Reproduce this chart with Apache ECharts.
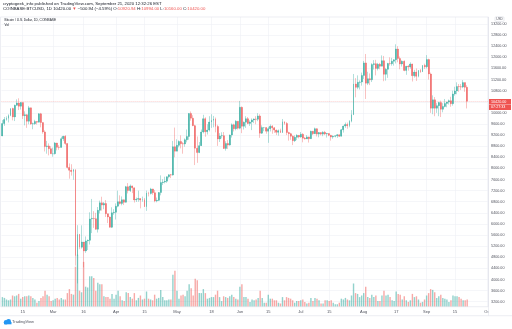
<!DOCTYPE html>
<html><head><meta charset="utf-8">
<script src="https://cdn.jsdelivr.net/npm/echarts@6/dist/echarts.min.js"></script>
<style>html,body{margin:0;padding:0;background:#fff}#c{width:512px;height:329px}</style>
</head><body><div id="c"></div>
<script>
// ---------- DATA ----------
const startYear = 2020, startMonth = 1, startDay = 5;   // 5 Feb 2020
const dayCount = 240;                                    // axis runs to 1 Oct 2020

const opens = [
 // Feb 5-29
 9170,9613,9760,9805,9905,10160,9855,10270,10355,10240,10370,9900,9935,9700,10180,9600,9610,9690,9665,9965,9650,9315,8785,8810,8710,
 // Mar
 8525,8530,8915,8760,8755,9070,9155,8900,8035,7935,7890,7950,4860,5625,5165,5350,5030,5390,5410,6180,6200,6190,5810,6490,6760,6680,6740,6370,6250,5880,6400,
 // Apr
 6420,6640,6800,6740,6870,6780,7340,7200,7370,7300,6865,6890,6915,6860,6875,6620,7115,7100,7260,7125,6830,6850,7130,7490,7510,7540,7700,7770,7760,8780,
 // May
 8620,8830,8970,8890,8880,9030,9150,9980,9810,9540,8730,8570,8820,9310,9790,9320,9380,9670,9730,9780,9510,9060,9170,9180,8720,8900,8840,9200,9570,9430,9700,
 // Jun
 9450,10200,9520,9665,9790,9620,9670,9745,9780,9770,9890,9270,9470,9470,9340,9430,9520,9460,9380,9300,9360,9290,9680,9620,9290,9250,9160,9000,9120,9190,
 // Jul
 9135,9230,9090,9060,9135,9070,9340,9250,9430,9235,9290,9235,9300,9240,9255,9190,9130,9155,9175,9210,9160,9390,9525,9580,9540,9700,9935,11040,10920,11100,11110,
 // Aug
 11350,11800,11070,11230,11190,11740,11770,11600,11750,11680,11880,11390,11570,11780,11770,11860,11910,12300,11960,11760,11860,11530,11680,11650,11760,11340,11470,11320,11530,11480,11710,
 // Sep 1-21
 11660,11920,11400,10170,10470,10170,10260,10370,10130,10230,10340,10390,10440,10330,10680,10790,10950,10940,10930,11090,10920.94
];
const highs = [
 9740,9850,9875,9950,10160,10185,10300,10485,10525,10390,10380,10055,9950,10250,10190,9650,9750,9690,9990,10000,9660,9370,8990,8900,8800,
 8750,8950,8920,8840,9140,9175,9200,8900,8180,8150,7980,7970,5955,5640,5950,5350,5550,5440,6420,6900,6460,6400,6610,6840,6980,6790,6860,6370,6270,6600,6530,
 6740,7200,7030,6990,6880,7370,7470,7420,7380,7310,6950,7200,6920,6985,6935,7200,7160,7300,7265,7220,6950,7150,7750,7610,7700,7710,7790,7800,8990,9470,
 9050,9010,9190,8950,9080,9400,9990,10050,9915,9570,9150,8950,9400,9930,9840,9590,9880,9950,9890,9830,9570,9270,9300,9310,8980,9020,9220,9620,9610,9740,9700,
 10430,10230,9690,9880,9850,9730,9800,9800,9880,9990,9950,9550,9490,9480,9500,9580,9560,9490,9400,9400,9430,9780,9690,9670,9320,9280,9190,9190,9230,9200,
 9310,9270,9130,9200,9140,9360,9350,9470,9440,9310,9300,9340,9350,9280,9270,9210,9190,9190,9240,9220,9420,9540,9650,9650,9740,10100,11400,11250,11350,11170,11450,
 11870,12120,11480,11420,11790,11900,11910,11800,11800,12070,12050,11620,11800,12000,11980,11930,12470,12400,12030,11890,11890,11690,11720,11820,11770,11550,11600,11540,11580,11720,11770,
 12080,11950,11450,10630,10570,10350,10400,10440,10350,10500,10400,10480,10580,10800,10940,11100,11040,11040,11180,11090,10994
];
const lows = [
 9160,9530,9720,9655,9880,9730,9705,10260,10100,10120,9780,9550,9460,9590,9570,9410,9570,9580,9655,9480,9250,8610,8530,8470,8530,
 8420,8500,8650,8670,8755,8990,8850,8000,7630,7740,7590,4500,3858,5090,5110,4440,4960,5060,5260,5670,5860,5790,5690,6380,6480,6530,6250,6030,5870,5860,6330,
 6160,6600,6700,6670,6680,6770,7100,7150,7110,6770,6790,6800,6560,6800,6610,6470,6990,7060,7050,6780,6780,6825,7030,7400,7460,7480,7640,7650,7740,8400,
 8620,8760,8720,8530,8780,8940,9030,9720,9520,8120,8200,8550,8810,9260,9140,9220,9330,9460,9480,9300,8810,8950,9080,8700,8640,8700,8820,9110,9330,9370,9400,
 9410,9270,9400,9460,9590,9530,9380,9630,9590,9700,9100,9240,9340,9250,8920,9330,9250,9280,9200,9180,9280,9280,9570,9200,9000,9030,8840,8950,9020,9080,
 9100,8940,9040,9060,8930,9060,9200,9240,9150,9120,9190,9160,9200,9110,9160,9000,9070,9120,9100,9130,9150,9290,9460,9430,9480,9660,9920,10560,10850,10840,10980,
 11220,10500,11000,11000,11110,11560,11350,11530,11570,11680,11140,11160,11260,11700,11700,11700,11780,11820,11570,11670,11500,11370,11520,11590,11130,11270,11150,11280,11440,11470,11580,
 11600,11200,10000,9950,9880,10000,9880,9850,10020,10200,10200,10300,10220,10260,10620,10670,10760,10820,10890,10760,10160
];
const closes = [
 9613,9760,9805,9905,10160,9855,10270,10355,10240,10370,9900,9935,9700,10180,9600,9610,9690,9665,9965,9650,9315,8785,8810,8710,8525,
 8530,8915,8760,8755,9070,9155,8900,8035,7935,7890,7950,4860,5625,5165,5350,5030,5390,5410,6180,6200,6190,5810,6490,6760,6680,6740,6370,6250,5880,6400,6420,
 6640,6800,6740,6870,6780,7340,7200,7370,7300,6865,6890,6915,6860,6875,6620,7115,7100,7260,7125,6830,6850,7130,7490,7510,7540,7700,7770,7760,8780,8620,
 8830,8970,8890,8880,9030,9150,9980,9810,9540,8730,8570,8820,9310,9790,9320,9380,9670,9730,9780,9510,9060,9170,9180,8720,8900,8840,9200,9570,9430,9700,9450,
 10200,9520,9665,9790,9620,9670,9745,9780,9770,9890,9270,9470,9470,9340,9430,9520,9460,9380,9300,9360,9290,9680,9620,9290,9250,9160,9000,9120,9190,9135,
 9230,9090,9060,9135,9070,9340,9250,9430,9235,9290,9235,9300,9240,9255,9190,9130,9155,9175,9210,9160,9390,9525,9580,9540,9700,9935,11040,10920,11100,11110,11350,
 11800,11070,11230,11190,11740,11770,11600,11750,11680,11880,11390,11570,11780,11770,11860,11910,12300,11960,11760,11860,11530,11680,11650,11760,11340,11470,11320,11530,11480,11710,11660,
 11920,11400,10170,10470,10170,10260,10370,10130,10230,10340,10390,10440,10330,10680,10790,10950,10940,10930,11090,10920.94,10420
];
// daily volume, thousand BTC
const volumes = [
 12,11,9,8,9,14,13,14,16,10,12,13,13,14,13,11,9,5,7,11,13,20,15,13,7,
 8,10,11,9,11,9,9,17,22,16,15,50,65,20,18,56,25,24,38,38,36,20,30,28,28,13,12,12,10,16,10,
 15,20,13,8,7,18,17,12,10,17,8,11,14,9,10,19,10,9,8,15,10,11,21,12,8,8,9,9,40,45,
 20,10,14,15,13,20,28,23,14,35,33,17,17,22,17,10,11,12,12,15,20,12,7,13,12,11,13,15,12,10,9,
 25,28,12,12,10,6,9,8,9,11,20,11,5,5,15,10,10,8,8,5,4,12,8,12,11,10,8,5,7,7,
 8,9,6,4,5,11,7,11,10,8,4,4,8,8,7,8,5,3,3,5,10,9,11,9,8,14,29,17,16,12,14,
 17,25,12,11,15,12,14,7,7,14,20,14,15,12,8,7,19,16,15,9,13,8,6,8,16,12,13,9,5,6,9,
 14,17,22,21,18,11,13,15,11,10,9,6,8,14,13,13,12,10,8,8,9
];
const timeLabels = {
 '2020-02-15':'15','2020-03-01':'Mar','2020-03-16':'16','2020-04-01':'Apr','2020-04-15':'15',
 '2020-05-01':'May','2020-05-18':'18','2020-06-01':'Jun','2020-06-15':'15','2020-07-01':'Jul',
 '2020-07-15':'15','2020-08-01':'Aug','2020-08-17':'17','2020-09-01':'Sep','2020-09-15':'15','2020-10-01':'Oct'
};
const priceMin = 2800, priceMax = 13600, priceStep = 400;
const lastPrice = 10420;
const countdown = '07:27:33';

// ---------- BUILD ----------
const dates = [];
for (let i = 0; i < dayCount; i++) {
  dates.push(new Date(Date.UTC(startYear, startMonth, startDay + i)).toISOString().slice(0, 10));
}
const wickData = opens.map((o, i) => [o, closes[i], lows[i], highs[i]]);
const bodyData = opens.map((o, i) => [o, closes[i], Math.min(o, closes[i]), Math.max(o, closes[i])]);
const UP = '#26a69a', DOWN = '#ef5350';
const volData = volumes.map((v, i) => ({
  value: v,
  itemStyle: { color: closes[i] >= opens[i] ? 'rgba(38,166,154,0.5)' : 'rgba(239,83,80,0.5)' }
}));
const FONT = '"Liberation Sans", Arial, sans-serif';
const TXT = '#50535e';

const chart = echarts.init(document.getElementById('c'), null, { renderer: 'canvas' });
const option = {
  animation: false,
  backgroundColor: '#ffffff',
  textStyle: { fontFamily: FONT },
  grid: [
    { left: 1.4, right: 23.5, top: 12.9, bottom: 16.2 },
    { left: 1.4, right: 23.5, top: 17, bottom: 22.3 }
  ],
  xAxis: [
    { type: 'category', gridIndex: 0, data: dates, boundaryGap: true, show: false },
    { type: 'category', gridIndex: 1, data: dates, boundaryGap: true,
      axisLine: { show: false }, axisTick: { show: false },
      axisLabel: { interval: (i, v) => v in timeLabels, formatter: v => timeLabels[v] || '',
        fontSize: 4, color: TXT, margin: 3.2, fontFamily: FONT },
      splitLine: { show: true, interval: (i, v) => v in timeLabels, alignWithLabel: true,
        lineStyle: { color: '#eef0f5', width: 0.6 } } }
  ],
  yAxis: [
    { type: 'value', gridIndex: 0, position: 'right', min: priceMin, max: priceMax, interval: priceStep,
      axisLine: { show: false }, axisTick: { show: false },
      axisLabel: { fontSize: 3.7, color: TXT, margin: 2.6, fontFamily: FONT,
        formatter: v => (v < 3200 || v > 13200) ? '' : v.toFixed(2) },
      splitLine: { show: true, showMinLine: false, showMaxLine: false, lineStyle: { color: '#eef0f5', width: 0.6 } } },
    { type: 'value', gridIndex: 1, min: 0, max: 362, show: false }
  ],
  series: [
    { type: 'bar', xAxisIndex: 1, yAxisIndex: 1, data: volData, barWidth: 1.4, z: 1, silent: true },
    { type: 'candlestick', xAxisIndex: 0, yAxisIndex: 0, data: wickData, barWidth: 0.6, z: 2, silent: true,
      itemStyle: { color: 'rgba(38,166,154,0.45)', color0: 'rgba(239,83,80,0.45)',
        borderColor: 'rgba(38,166,154,0.45)', borderColor0: 'rgba(239,83,80,0.45)', borderWidth: 0.8 } },
    { type: 'candlestick', xAxisIndex: 0, yAxisIndex: 0, data: bodyData, barWidth: 1.4, z: 3, silent: true,
      itemStyle: { color: UP, color0: DOWN, borderColor: UP, borderColor0: DOWN, borderWidth: 0.3 },
      markLine: { silent: true, symbol: 'none', label: { show: false },
        lineStyle: { color: 'rgba(239,83,80,0.45)', type: [1, 1], width: 0.6 },
        data: [{ yAxis: lastPrice }] } }
  ],
  graphic: [
    { type: 'text', left: 3, top: 1.6, z: 100, style: { text: 'cryptogeek_info published on TradingView.com, September 21, 2020 12:32:26 EST',
        fontSize: 4.3, fill: '#131722', fontFamily: FONT } },
    { type: 'text', left: 3, top: 7.2, z: 100, style: {
        text: '{d|COINBASE:BTCUSD, 1D 10420.00 }{r|▼}{d| −500.94 (−4.59%) O:}{r|10920.94}{d| H:}{r|10994.00}{d| L:}{r|10160.00}{d| C:}{r|10420.00}',
        fontFamily: FONT, fontSize: 4.3,
        rich: { d: { fill: '#131722', fontSize: 4.3, fontFamily: FONT }, r: { fill: '#ef5350', fontSize: 4.3, fontFamily: FONT } } } },
    { type: 'rect', z: 100, shape: { x: 0.5, y: 17, width: 488, height: 289.7 }, style: { fill: 'none', stroke: '#e0e3eb', lineWidth: 0.6 } },
    { type: 'line', z: 100, shape: { x1: 0, y1: 315.7, x2: 512, y2: 315.7 }, style: { stroke: '#e0e3eb', lineWidth: 0.6 } },
    { type: 'line', z: 100, shape: { x1: 488.5, y1: 17, x2: 488.5, y2: 315.7 }, style: { stroke: '#e0e3eb', lineWidth: 0.6 } },
    { type: 'rect', z: 99, shape: { x: 488.8, y: 307, width: 24, height: 8.4 }, style: { fill: '#ffffff' } },
    { type: 'text', left: 4.5, top: 18.8, z: 100, style: { text: 'Bitcoin / U.S. Dollar, 1D, COINBASE', fontSize: 3.2, fill: '#131722', fontFamily: FONT } },
    { type: 'text', left: 4.5, top: 23.8, z: 100, style: { text: 'Vol', fontSize: 3.2, fill: '#131722', fontFamily: FONT } },
    { type: 'rect', z: 100, shape: { x: 495, y: 16.8, width: 9, height: 4.6, r: 1 }, style: { fill: '#fff', stroke: '#d1d4dc', lineWidth: 0.5 } },
    { type: 'text', x: 499.5, y: 19.1, z: 101, style: { text: 'USD', fontSize: 3.2, fill: TXT, align: 'center', verticalAlign: 'middle', fontFamily: FONT } },
    { type: 'rect', z: 100, shape: { x: 489, y: 99, width: 22, height: 5.4 }, style: { fill: '#ef5350' } },
    { type: 'text', x: 491, y: 101.8, z: 101, style: { text: '10420.00', fontSize: 3.7, fill: '#fff', verticalAlign: 'middle', fontFamily: FONT } },
    { type: 'rect', z: 100, shape: { x: 489, y: 104.6, width: 22, height: 5.4 }, style: { fill: '#ef5350' } },
    { type: 'text', x: 491, y: 107.4, z: 101, style: { text: countdown, fontSize: 3.7, fill: '#fff', verticalAlign: 'middle', fontFamily: FONT } },
    { type: 'circle', z: 100, shape: { cx: 6, cy: 322.3, r: 2.2 }, style: { fill: '#2196f3' } },
    { type: 'circle', z: 100, shape: { cx: 8.6, cy: 321.4, r: 2.4 }, style: { fill: '#2196f3' } },
    { type: 'rect', z: 100, shape: { x: 4, y: 322, width: 7.5, height: 2.3 }, style: { fill: '#2196f3' } },
    { type: 'text', left: 12, top: 320, z: 100, style: { text: 'TradingView', fontSize: 4, fill: '#50535e', fontFamily: FONT } }
  ]
};
chart.setOption(option);
</script>
</body></html>
